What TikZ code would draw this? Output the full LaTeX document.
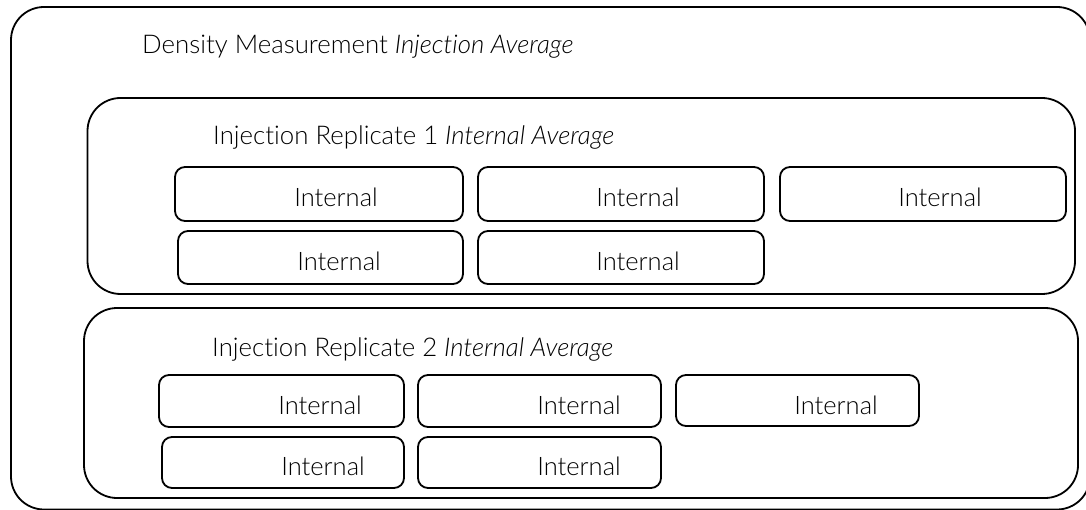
\documentclass[tikz,border=0pt]{standalone}
\usepackage{fontspec}
\setmainfont{Lato}[UprightFont=* Light, ItalicFont=* Light Italic, RawFeature=-liga]
\begin{document}
\begin{tikzpicture}[x=1pt,y=-1pt,
  bigbox/.style={draw=black,line width=1.8pt,rounded corners=33pt,inner sep=0pt,outer sep=0pt},
  smallbox/.style={draw=black,line width=1.8pt,rounded corners=10pt,inner sep=0pt,outer sep=0pt},
  title/.style={inner sep=0pt,anchor=base west,font=\fontsize{25.8}{30}\selectfont},
  lbl/.style={inner sep=0pt,anchor=base,font=\fontsize{25.5}{30}\selectfont}]
\useasboundingbox (0,0) rectangle (1086,510);
\begin{scope}
\clip (0,0) rectangle (1086,510);
% outer
\node[bigbox,minimum width=1079pt,minimum height=502.5pt] (outer) at (550.5,258.25) {};
\end{scope}
\node[title] (t0) at (142,53.3) {Density Measurement \textit{Injection Average}};
% replicate 1
\node[bigbox,minimum width=987.5pt,minimum height=196pt] (rep1) at (581.25,196) {};
\node[title] (t1) at (213,145) {Injection Replicate 1 \textit{Internal Average}};
\node[smallbox,minimum width=288pt,minimum height=54pt] (a) at (319,194) {};
\node[smallbox,minimum width=286pt,minimum height=54pt] (b) at (621,194) {};
\node[smallbox,minimum width=286pt,minimum height=54pt] (c) at (923,194) {};
\node[smallbox,minimum width=285pt,minimum height=53pt] (d) at (320.5,257.5) {};
\node[smallbox,minimum width=286pt,minimum height=53pt] (e) at (621,257.5) {};
\node[lbl] (la) at (336,206.7) {Internal};
\node[lbl] (lb) at (638,206.7) {Internal};
\node[lbl] (lc) at (940,206.7) {Internal};
\node[lbl] (ld) at (339,270.7) {Internal};
\node[lbl] (le) at (638,270.7) {Internal};
% replicate 2
\node[bigbox,minimum width=994pt,minimum height=190pt] (rep2) at (581,403) {};
\node[title] (t2) at (212,356) {Injection Replicate 2 \textit{Internal Average}};
\node[smallbox,minimum width=245pt,minimum height=52pt] (f) at (281.5,401) {};
\node[smallbox,minimum width=243pt,minimum height=52pt] (g) at (539.5,401) {};
\node[smallbox,minimum width=243pt,minimum height=51pt] (h) at (797.5,400.5) {};
\node[smallbox,minimum width=242pt,minimum height=51pt] (i) at (283,462.5) {};
\node[smallbox,minimum width=243pt,minimum height=51pt] (j) at (539.5,462.5) {};
\node[lbl] (lf) at (320,414) {Internal};
\node[lbl] (lg) at (579,414) {Internal};
\node[lbl] (lh) at (836,414) {Internal};
\node[lbl] (li) at (323,475) {Internal};
\node[lbl] (lj) at (579,475) {Internal};
\end{tikzpicture}
\end{document}
